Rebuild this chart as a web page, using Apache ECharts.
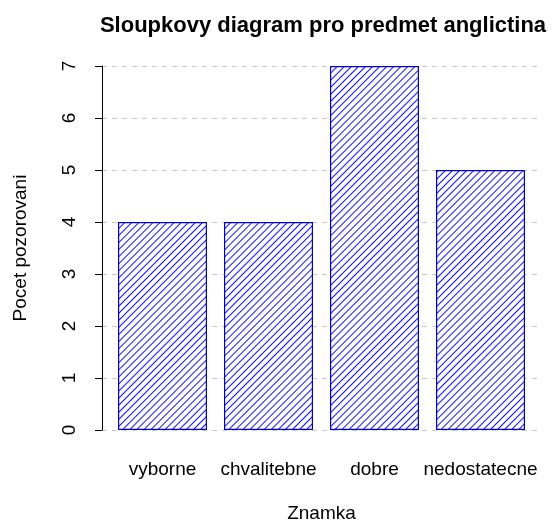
<!DOCTYPE html>
<html>
<head>
<meta charset="utf-8">
<script src="https://cdn.jsdelivr.net/npm/echarts@6/dist/echarts.min.js"></script>
<style>
html,body{margin:0;padding:0;background:#fff}
#chart{width:555px;height:524px}
</style>
</head>
<body>
<div id="chart"></div>
<script>
const categories = ['vyborne', 'chvalitebne', 'dobre', 'nedostatecne'];
const counts = [4, 4, 7, 5];
const yMin = 0, yMax = 7;

const font = '"Liberation Sans", Arial, sans-serif';
const hatch = {
  symbol: 'rect',
  color: '#1010ff',
  backgroundColor: '#ffffff',
  dashArrayX: [1, 0],
  dashArrayY: [1, 3.8],
  rotation: -Math.PI / 4
};

const chart = echarts.init(document.getElementById('chart'));
chart.setOption({
  animation: false,
  backgroundColor: '#fff',
  textStyle: {fontFamily: font},
  title: {
    text: 'Sloupkovy diagram pro predmet anglictina',
    left: 318, top: 10, textAlign: 'center',
    textStyle: {fontFamily: font, fontWeight: 'bold', fontSize: 22, color: '#000'}
  },
  grid: [
    {left: 102, right: 15, top: 66, bottom: 94, outerBoundsMode: 'none'},
    {left: 109.5, right: 21.5, top: 66, bottom: 94, outerBoundsMode: 'none'}
  ],
  xAxis: [
    {gridIndex: 0, type: 'value', show: false},
    {gridIndex: 1, type: 'category', data: categories,
      axisLine: {show: false}, axisTick: {show: false},
      axisLabel: {color: '#000', fontSize: 19, margin: 30, interval: 0, fontFamily: font},
      name: 'Znamka', nameLocation: 'middle', nameGap: 74,
      nameTextStyle: {color: '#000', fontSize: 19, fontFamily: font}}
  ],
  yAxis: [
    {gridIndex: 0, type: 'value', min: yMin, max: yMax, interval: 1,
      axisLine: {show: true, lineStyle: {color: '#000', width: 1}},
      axisTick: {show: true, length: 7, lineStyle: {color: '#000'}},
      axisLabel: {color: '#000', fontSize: 19, rotate: 90, margin: 23, fontFamily: font},
      splitLine: {show: true, lineStyle: {color: '#c8c8c8', type: [5, 5], width: 1}},
      name: 'Pocet pozorovani', nameLocation: 'middle', nameGap: 72,
      nameTextStyle: {color: '#000', fontSize: 19, fontFamily: font}},
    {gridIndex: 1, type: 'value', min: yMin, max: yMax, show: false}
  ],
  series: [{
    type: 'bar', xAxisIndex: 1, yAxisIndex: 1,
    data: counts,
    barWidth: 89,
    itemStyle: {color: '#ffffff', borderColor: '#0000c8', borderWidth: 1.2, decal: hatch}
  }]
});
</script>
</body>
</html>
